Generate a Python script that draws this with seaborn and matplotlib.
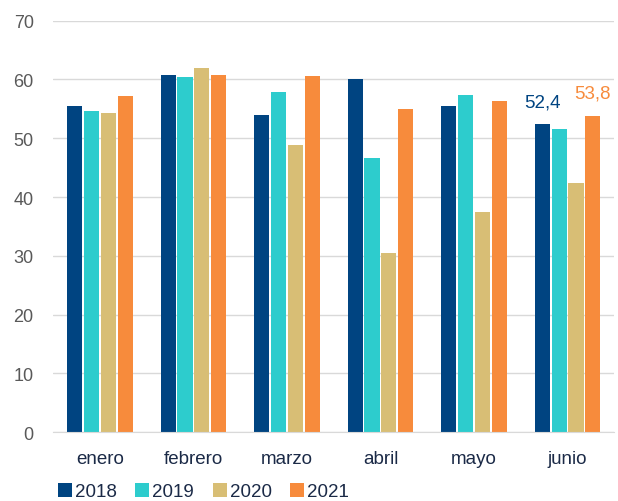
import matplotlib as mpl
mpl.use('agg')
import matplotlib.pyplot as plt
import pandas as pd
import seaborn as sns

# data
meses = ['enero', 'febrero', 'marzo', 'abril', 'mayo', 'junio']
anios = ['2018', '2019', '2020', '2021']
v2018 = [55.4, 60.7, 54.0, 60.1, 55.5, 52.4]
v2019 = [54.7, 60.4, 57.8, 46.7, 57.4, 51.6]
v2020 = [54.2, 61.9, 48.8, 30.4, 37.5, 42.4]
v2021 = [57.2, 60.7, 60.5, 54.9, 56.3, 53.8]
colores = ['#004481', '#2DCCCD', '#D8BE75', '#F78B3C']

rows = []
for anio, vals in zip(anios, [v2018, v2019, v2020, v2021]):
    for m, v in zip(meses, vals):
        rows.append({'mes': m, 'anio': anio, 'valor': v})
df = pd.DataFrame(rows)

sns.set_style('white')
plt.rcParams['font.family'] = ['Liberation Sans', 'DejaVu Sans']

fig = plt.figure(figsize=(6.18, 5.02), dpi=100)
ax = fig.add_axes([0.086, 0.137, 0.908, 0.82])
sns.barplot(data=df, x='mes', y='valor', hue='anio', palette=colores,
            width=0.72, gap=0.1, linewidth=0, saturation=1, ax=ax)

ax.set_ylim(0, 70)
ax.set_yticks(range(0, 71, 10))
ax.set_xlim(-0.5, len(meses) - 0.5)
ax.grid(axis='y', color='#D9D9D9', linewidth=1)
ax.set_axisbelow(True)
for s in ['top', 'right', 'left']:
    ax.spines[s].set_visible(False)
ax.spines['bottom'].set_color('#D9D9D9')
ax.set_xlabel('')
ax.set_ylabel('')
ax.tick_params(axis='y', length=0, labelsize=13, labelcolor='#595959', pad=14)
ax.tick_params(axis='x', which='major', length=0, labelsize=13.5, labelcolor='#1B2A47', pad=13)
ax.set_xticks([i + 0.5 for i in range(-1, len(meses))], minor=True)
ax.tick_params(axis='x', which='minor', length=5, color='#D9D9D9', width=1)

# labels for junio
ax.annotate('52,4', xy=(5 - 0.27, v2018[-1]), xytext=(0, 10), textcoords='offset points',
            ha='center', va='bottom', color='#004481', fontsize=13.5)
ax.annotate('53,8', xy=(5 + 0.27, v2021[-1]), xytext=(0, 10), textcoords='offset points',
            ha='center', va='bottom', color='#F78B3C', fontsize=13.5)

leg = ax.legend(loc='upper left', bbox_to_anchor=(-0.005, -0.105), ncol=4, frameon=False,
                fontsize=13.5, handlelength=0.75, handleheight=0.75, handletextpad=0.15,
                columnspacing=1.0, borderaxespad=0)
for t in leg.get_texts():
    t.set_color('#1B2A47')

plt.savefig('out.png', dpi=100)
